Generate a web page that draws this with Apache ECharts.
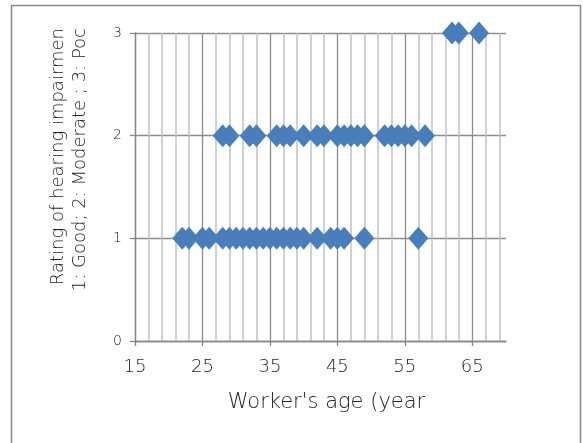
<!DOCTYPE html>
<html><head><meta charset="utf-8">
<script src="https://cdn.jsdelivr.net/npm/echarts@6/dist/echarts.min.js"></script>
<style>html,body{margin:0;padding:0;background:#fff}#c{width:583px;height:443px}</style>
</head><body><div id="c"></div>
<script>
// Data
const ratingLevels = [1, 2, 3];
const agesGood = [22,23,25,26,28,29,30,31,32,33,34,35,36,37,38,39,40,42,44,45,46,49,57];
const agesModerate = [28,29,32,33,36,37,38,40,42,43,45,46,47,48,49,52,53,54,55,56,58];
const agesPoor = [62,63,66];
const xTickLabels = [15,25,35,45,55,65];
const xMinorGrid = [17,19,21,23,27,29,31,33,37,39,41,43,47,49,51,53,57,59,61,63,67,69];
const yTickLabels = [0,1,2,3];
const xAxisTitle = "Worker's age (year";
const yAxisTitle1 = "Rating of hearing impairmen";
const yAxisTitle2 = "1: Good; 2: Moderate ; 3: Poc";

const groups = [agesGood, agesModerate, agesPoor];
const points = [];
groups.forEach((ages, i) => ages.forEach(a => points.push([a, ratingLevels[i]])));

const FONT = 'DejaVu Sans';
const FW = 200;
const TXT = '#222222';
const chart = echarts.init(document.getElementById('c'), null, {renderer: 'canvas'});
chart.setOption({
  animation: false,
  backgroundColor: '#fff',
  grid: {left: 135, right: 77, top: 33, bottom: 102, containLabel: false},
  xAxis: [{
    type: 'value', min: 15, max: 70,
    axisLine: {show: true, onZero: false, lineStyle: {color: '#868686', width: 1.3}},
    axisTick: {show: true, length: 5, customValues: xTickLabels, lineStyle: {color: '#868686', width: 1.3}},
    axisLabel: {customValues: xTickLabels, margin: 17, fontSize: 18, color: TXT, fontFamily: FONT, fontWeight: FW},
    splitLine: {show: true, lineStyle: {color: '#8c8c8c', width: 1.3}},
    name: xAxisTitle, nameLocation: 'middle', nameGap: 51,
    nameTextStyle: {fontSize: 21, color: TXT, fontFamily: FONT, fontWeight: FW, padding: [0, 0, 0, 12]}
  }, {
    type: 'value', min: 15, max: 70, position: 'bottom',
    axisLine: {show: false}, axisLabel: {show: false},
    axisTick: {show: false, customValues: xMinorGrid},
    splitLine: {show: true, lineStyle: {color: '#c0c0c0', width: 1.5}}
  }],
  yAxis: {
    type: 'value', min: 0, max: 3, interval: 1,
    axisLine: {show: true, lineStyle: {color: '#868686', width: 1.3}},
    axisTick: {show: true, length: 5, lineStyle: {color: '#868686', width: 1.3}},
    axisLabel: {margin: 13, fontSize: 14, color: TXT, fontFamily: FONT, fontWeight: FW},
    splitLine: {show: true, lineStyle: {color: '#8c8c8c', width: 1.3}}
  },
  series: [{
    type: 'scatter', xAxisIndex: 0, data: points,
    symbol: 'diamond', symbolSize: [20, 23],
    itemStyle: {color: '#4a7ebb', opacity: 1}
  }],
  graphic: [
    {type: 'rect', shape: {x: 11.5, y: 5.5, width: 569, height: 450}, style: {fill: 'none', stroke: '#898989', lineWidth: 1.5}, z: 100, silent: true},
    {type: 'text', x: 58, y: 28, rotation: Math.PI / 2, style: {text: yAxisTitle1, font: '200 18px "DejaVu Sans"', fill: TXT, align: 'right', verticalAlign: 'middle'}},
    {type: 'text', x: 80, y: 28, rotation: Math.PI / 2, style: {text: yAxisTitle2, font: '200 18px "DejaVu Sans"', fill: TXT, align: 'right', verticalAlign: 'middle'}}
  ]
});
</script></body></html>
